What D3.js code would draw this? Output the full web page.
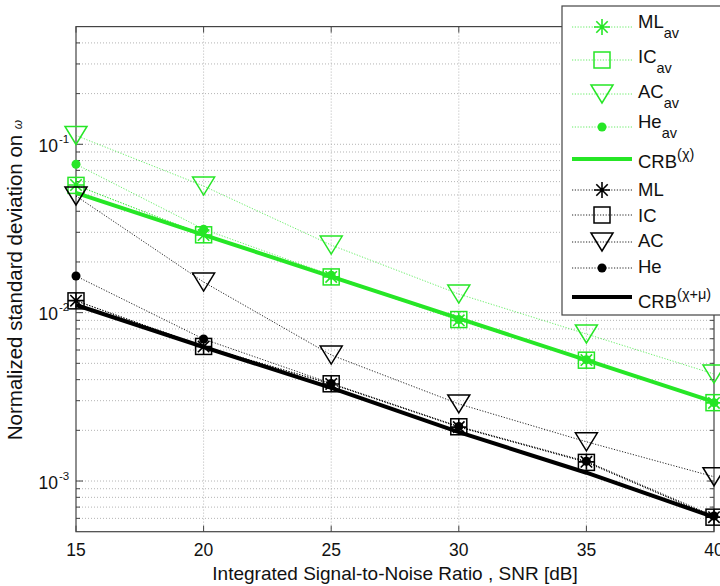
<!DOCTYPE html>
<html><head><meta charset="utf-8">
<script src="https://cdn.jsdelivr.net/npm/d3@7"></script>
<style>body{margin:0;background:#fff}svg{display:block;font-family:"Liberation Sans",Arial,sans-serif}</style>
</head><body><svg id="c" width="720" height="586"></svg>
<script>
// ---- data ----
const snr = [15, 20, 25, 30, 35, 40];
const mlAv = [0.0573, 0.0289, 0.0163, 0.0090, 0.00523, 0.00291];
const icAv = [0.0570, 0.0290, 0.0163, 0.0091, 0.00522, 0.00292];
const acAv = [0.1128, 0.0565, 0.0252, 0.0129, 0.00747, 0.00432];
const heAv = [0.0761, 0.0313, 0.0167, 0.0091, 0.00525, 0.00292];
const crbChi = [0.0514, 0.0290, 0.01638, 0.00925, 0.00522, 0.00295];
const ml = [0.01178, 0.00629, 0.00377, 0.00209, 0.00130, 0.00061];
const ic = [0.01175, 0.00630, 0.00378, 0.00210, 0.00129, 0.00061];
const ac = [0.0493, 0.0152, 0.0056, 0.00287, 0.00171, 0.00106];
const he = [0.0165, 0.00697, 0.00380, 0.00211, 0.00131, 0.00062];
const crbChiMu = [0.0111, 0.00625, 0.00357, 0.00195, 0.00112, 0.00061];
const xTicks = [15, 20, 25, 30, 35, 40];
const yDecades = [1e-3, 1e-2, 1e-1];
const yDecadeExp = ["-3", "-2", "-1"];
const xLabel = "Integrated Signal-to-Noise Ratio , SNR [dB]";
const yLabel = "Normalized standard deviation on ";

// ---- layout ----
const GREEN = "#26e626";
const L = 76, R = 714, T = 26.6, B = 531.7;
const svg = d3.select("#c");
const x = d3.scaleLinear().domain([15, 40]).range([L, R]);
const y = d3.scaleLog().domain([5e-4, 0.5]).range([B, T]);

// grid
const g = svg.append("g");
const minor = y.ticks().filter(v => v > 5e-4 * 1.0001 && v < 0.5 * 0.9999);
g.selectAll("line.hg").data(minor).join("line")
  .attr("x1", L).attr("x2", R).attr("y1", d => y(d)).attr("y2", d => y(d))
  .attr("stroke", "#b4b4b4").attr("stroke-width", 1).attr("stroke-dasharray", "1,2");
g.selectAll("line.vg").data(xTicks.slice(1, -1)).join("line")
  .attr("y1", T).attr("y2", B).attr("x1", d => x(d)).attr("x2", d => x(d))
  .attr("stroke", "#b4b4b4").attr("stroke-width", 1).attr("stroke-dasharray", "1,2");

// frame
const AX = "#444";
svg.append("rect").attr("x", L).attr("y", T).attr("width", R - L).attr("height", B - T)
  .attr("fill", "none").attr("stroke", AX).attr("stroke-width", 1.2);
// ticks
const isMajor = v => yDecades.some(d => Math.abs(v / d - 1) < 1e-6);
minor.forEach(v => {
  const len = isMajor(v) ? 7 : 4;
  svg.append("line").attr("x1", L).attr("x2", L + len).attr("y1", y(v)).attr("y2", y(v)).attr("stroke", AX);
  svg.append("line").attr("x1", R).attr("x2", R - len).attr("y1", y(v)).attr("y2", y(v)).attr("stroke", AX);
});
xTicks.forEach(v => {
  svg.append("line").attr("x1", x(v)).attr("x2", x(v)).attr("y1", B).attr("y2", B - 6).attr("stroke", AX);
  svg.append("line").attr("x1", x(v)).attr("x2", x(v)).attr("y1", T).attr("y2", T + 6).attr("stroke", AX);
});
// tick labels
svg.selectAll("text.xt").data(xTicks).join("text")
  .attr("x", d => x(d)).attr("y", 556).attr("text-anchor", "middle")
  .attr("font-size", 17.5).attr("fill", "#111").text(d => d);
yDecades.forEach((d, i) => {
  svg.append("text").attr("y", y(d) + 7.5).attr("x", 58).attr("text-anchor", "end")
    .attr("font-size", 17.5).attr("fill", "#111").text("10");
  svg.append("text").attr("x", 59).attr("y", y(d) - 1.5).attr("font-size", 11.5)
    .attr("fill", "#111").text(yDecadeExp[i]);
});
// axis labels
svg.append("text").attr("x", (L + R) / 2).attr("y", 580).attr("text-anchor", "middle")
  .attr("font-size", 19).attr("fill", "#111").text(xLabel);
const yl = svg.append("text").attr("transform", "translate(22,280) rotate(-90)")
  .attr("text-anchor", "middle").attr("font-size", 20.5).attr("fill", "#111");
yl.append("tspan").text(yLabel);
yl.append("tspan").attr("font-size", 12).attr("font-style", "italic").text("ω");

// ---- markers ----
function marker(sel, type, cx, cy, color) {
  const s = sel.append("g").attr("transform", `translate(${cx},${cy})`);
  if (type === "star") {
    const r = 8, q = 5.7;
    s.append("path").attr("d", `M${-r},0H${r}M0,${-r}V${r}M${-q},${-q}L${q},${q}M${-q},${q}L${q},${-q}`)
      .attr("stroke", color).attr("stroke-width", 1.6).attr("fill", "none");
  } else if (type === "square") {
    s.append("rect").attr("x", -8).attr("y", -8).attr("width", 16).attr("height", 16)
      .attr("stroke", color).attr("stroke-width", 1.5).attr("fill", "none");
  } else if (type === "tri") {
    s.append("path").attr("d", "M-11,-9L11,-9L0,9Z")
      .attr("stroke", color).attr("stroke-width", 1.5).attr("fill", "none");
  } else if (type === "dot") {
    s.append("circle").attr("r", 4.5).attr("fill", color);
  }
}

const series = [
  { name: "ML", sub: "av", vals: mlAv, color: GREEN, type: "star" },
  { name: "IC", sub: "av", vals: icAv, color: GREEN, type: "square" },
  { name: "AC", sub: "av", vals: acAv, color: GREEN, type: "tri" },
  { name: "He", sub: "av", vals: heAv, color: GREEN, type: "dot" },
  { name: "CRB", sup: "(χ)", vals: crbChi, color: GREEN, type: "crb" },
  { name: "ML", vals: ml, color: "#000", type: "star" },
  { name: "IC", vals: ic, color: "#000", type: "square" },
  { name: "AC", vals: ac, color: "#000", type: "tri" },
  { name: "He", vals: he, color: "#000", type: "dot" },
  { name: "CRB", sup: "(χ+μ)", vals: crbChiMu, color: "#000", type: "crb" }
];

const line = d3.line().x((d, i) => x(snr[i])).y(d => y(d));
const plot = svg.append("g");
series.forEach(s => {
  if (s.type === "crb") {
    plot.append("path").attr("d", line(s.vals)).attr("fill", "none")
      .attr("stroke", s.color).attr("stroke-width", 4);
  } else {
    plot.append("path").attr("d", line(s.vals)).attr("fill", "none")
      .attr("stroke", s.color).attr("stroke-width", 1).attr("stroke-dasharray", "1.2,1.6")
      .attr("opacity", s.color === GREEN ? 0.7 : 0.85);
    s.vals.forEach((v, i) => marker(plot, s.type, x(snr[i]), y(v), s.color));
  }
});

// ---- legend ----
const lg = svg.append("g");
lg.append("rect").attr("x", 562).attr("y", 6).attr("width", 170).attr("height", 309)
  .attr("fill", "#fff").attr("stroke", AX).attr("stroke-width", 1.2);
const rowY = [27, 60, 94, 127, 159, 190, 215, 242, 268, 297];
const rowBase = [28, 63, 98, 128, 168, 196, 222, 247, 273, 308];
series.forEach((s, i) => {
  const yy = rowY[i];
  if (s.type === "crb") {
    lg.append("line").attr("x1", 572).attr("x2", 632).attr("y1", yy).attr("y2", yy)
      .attr("stroke", s.color).attr("stroke-width", 4);
  } else {
    lg.append("line").attr("x1", 572).attr("x2", 632).attr("y1", yy).attr("y2", yy)
      .attr("stroke", s.color).attr("stroke-width", 1).attr("stroke-dasharray", "1.2,1.6")
      .attr("opacity", s.color === GREEN ? 0.7 : 0.85);
    marker(lg, s.type, 602, yy, s.color);
  }
  const t = lg.append("text").attr("x", 638).attr("y", rowBase[i]).attr("font-size", 18.5).attr("fill", "#111");
  t.append("tspan").text(s.name);
  if (s.sub) t.append("tspan").attr("dy", 10).attr("font-size", 14.5).text(s.sub);
  if (s.sup) t.append("tspan").attr("dy", -9).attr("font-size", 14.5).text(s.sup);
});
</script></body></html>
